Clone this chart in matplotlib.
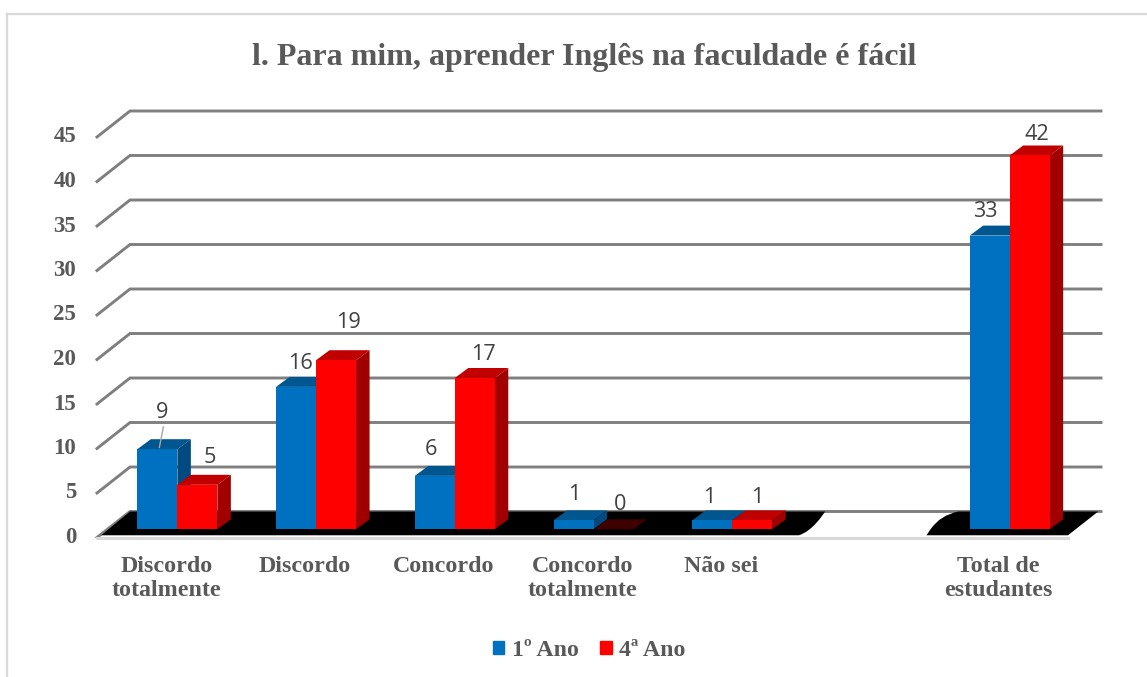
import numpy as np
import matplotlib
matplotlib.use("Agg")
import matplotlib.pyplot as plt
from matplotlib.lines import Line2D
from matplotlib.patches import Patch, PathPatch
from matplotlib.path import Path

title = "l. Para mim, aprender Inglês na faculdade é fácil"
categories = ["Discordo\ntotalmente", "Discordo", "Concordo", "Concordo\ntotalmente", "Não sei", "", "Total de\nestudantes"]
ano1 = [9, 16, 6, 1, 1, np.nan, 33]
ano4 = [5, 19, 17, 0, 1, np.nan, 42]
series_names = ["1º Ano", "4ª Ano"]
yticks = [0, 5, 10, 15, 20, 25, 30, 35, 40, 45]

# style: label offsets in pixels from the centre of each bar's top edge
off1 = [(5, 37), (4, 23), (-4, 26), (1, 26), (-3, 23), None, (-4, 24)]
off4 = [(12, 27), (12, 38), (9, 24), (7, 25), (5, 23), None, (7, 21)]

W, H = 1147, 677
PX_X, PX_Y = 971 / 7, 400.5 / 45
fig = plt.figure(figsize=(W / 100, H / 100), dpi=100)
ax = fig.add_axes([97 / W, (H - 537.5) / H, 971 / W, 400.5 / H])
ax.set_xlim(-0.5, 6.5)
ax.set_ylim(0, 45)
for s in ax.spines.values():
    s.set_visible(False)

serif = "Liberation Serif"
grey = "#595959"
x = np.arange(len(categories))
ax.set_xticks(x, categories, fontfamily=serif, fontweight="bold", fontsize=17.3, color=grey, linespacing=1.19)
ax.set_yticks(yticks, [str(v) for v in yticks], fontfamily=serif, fontweight="bold", fontsize=16.5, color=grey)
ax.tick_params(axis="x", length=0, pad=13)
ax.tick_params(axis="y", length=0, pad=15)
for lab in ax.get_yticklabels():
    lab.set_verticalalignment("center")

for xs, ys in (([7.5 / W, 1], [1 - 14 / H, 1 - 14 / H]), ([7.5 / W, 7.5 / W], [1 - 14 / H, 0])):
    fig.add_artist(Line2D(xs, ys, color="#d9d9d9", lw=1.6, transform=fig.transFigure))
fig.text(584 / W, 1 - 57 / H, title, ha="center", va="center", family=serif, fontweight="bold",
         fontsize=23, color=grey)

# plane offsets (data units)
back_dx, back_dy = 33 / PX_X, 26 / PX_Y
plane_dx, plane_dy = 11 / PX_X, 8.2 / PX_Y
depth_dx, depth_dy = 13.5 / PX_X, 10 / PX_Y
bar_w = 40 / PX_X
x0, x1 = -0.5, 6.5

# walls
for v in yticks:
    ax.plot([x0, x0 + back_dx, x1 + back_dx], [v, v + back_dy, v + back_dy], color="#7f7f7f",
            lw=2.1, clip_on=False, zorder=1, solid_joinstyle="miter")

# floor pieces with rounded ends around the empty category
y0f, y0b = 0.25, back_dy
left_end, right_start = 4.56, 5.48
floor1 = [(x0 + 0.03, y0f), (left_end, y0f), (left_end + 0.1, y0f + 0.5), (left_end + 0.17, y0b - 0.4),
          (left_end + 0.19, y0b), (x0 + back_dx, y0b), (x0 + 0.03, y0f)]
codes1 = [Path.MOVETO, Path.LINETO, Path.CURVE4, Path.CURVE4, Path.CURVE4, Path.LINETO, Path.CLOSEPOLY]
floor2 = [(right_start, y0f), (x1, y0f), (x1 + back_dx - 0.02, y0b), (right_start + 0.23, y0b),
          (right_start + 0.1, y0b - 0.4), (right_start + 0.03, y0f + 0.7), (right_start, y0f)]
codes2 = [Path.MOVETO, Path.LINETO, Path.LINETO, Path.LINETO, Path.CURVE3, Path.CURVE3, Path.CLOSEPOLY]
for pts, cds in ((floor1, codes1), (floor2, codes2)):
    ax.add_patch(PathPatch(Path(pts, cds), facecolor="black", edgecolor="none", clip_on=False, zorder=2))
ax.plot([x0, x1], [0, 0], color="#d9d9d9", lw=2.2, clip_on=False, zorder=2)


def bars(vals, shift, front, top, side, offsets, zo):
    cx = x + plane_dx + shift
    keep = ~np.isnan(np.array(vals, float))
    ax.bar(cx[keep], np.array(vals, float)[keep], width=bar_w, bottom=plane_dy, color=front, zorder=zo + 1, clip_on=False)
    for c, v, off in zip(cx, vals, offsets):
        if np.isnan(v):
            continue
        l, r, yb, yt = c - bar_w / 2, c + bar_w / 2, plane_dy, plane_dy + v
        top_col = top if v > 0 else "#3f0000"
        ax.fill([l, r, r + depth_dx, l + depth_dx], [yt, yt, yt + depth_dy, yt + depth_dy], color=top_col, lw=0, zorder=zo, clip_on=False)
        if v > 0:
            ax.fill([r, r + depth_dx, r + depth_dx, r], [yb, yb + depth_dy, yt + depth_dy, yt], color=side, lw=0, zorder=zo, clip_on=False)
        ax.annotate(str(v), (c, yt), xytext=off, textcoords="offset pixels", ha="center", va="center",
                    family="Open Sans", fontsize=15.6, color="#404040", zorder=10, annotation_clip=False)


bars(ano1, -bar_w / 2, "#0070c0", "#00568f", "#004a80", off1, 3)
bars(ano4, bar_w / 2, "#ff0000", "#c00000", "#a00000", off4, 5)

# leader line for the first blue bar's label
c0 = x[0] + plane_dx - bar_w / 2
ax.plot([c0 + 2 / PX_X, c0 + 6 / PX_X], [plane_dy + ano1[0] + 0.2, plane_dy + ano1[0] + 2.5],
        color="#a6a6a6", lw=1, zorder=9, clip_on=False)

handles = [Patch(color="#0070c0", label=series_names[0]), Patch(color="#ff0000", label=series_names[1])]
fig.legend(handles=handles, loc="center", bbox_to_anchor=(589 / W, 1 - 650.5 / H), ncol=2, frameon=False,
           handlelength=0.5, handleheight=0.5, handletextpad=0.3, columnspacing=0.9,
           prop={"family": serif, "weight": "bold", "size": 17.2}, labelcolor=grey)

fig.savefig("out.png", dpi=100, facecolor="white")
